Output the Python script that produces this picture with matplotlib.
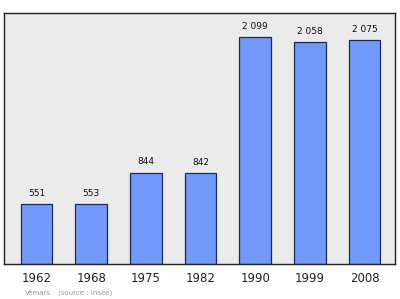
import matplotlib
matplotlib.use("Agg")
import matplotlib.pyplot as plt

years = ["1962", "1968", "1975", "1982", "1990", "1999", "2008"]
population = [551, 553, 844, 842, 2099, 2058, 2075]
value_labels = ["551", "553", "844", "842", "2 099", "2 058", "2 075"]

fig = plt.figure(figsize=(4.0, 2.99), dpi=100)
ax = fig.add_axes([4/400, 1-263.7/299, 391/400, (263.7-13.3)/299])
ax.set_facecolor("#ebebeb")
x = list(range(len(years)))
ax.bar(x, population, width=0.576, color="#7399fc", edgecolor="#1a2a5a", linewidth=0.9, zorder=2)
for xi, v, lab in zip(x, population, value_labels):
    ax.text(xi, v + 100, lab, ha="center", va="center", fontsize=6.5, color="#111111")
ax.set_xlim(-0.594, 6.557)
ax.set_ylim(0, 2323)
ax.set_yticks([])
ax.set_xticks(x)
ax.set_xticklabels(years, fontsize=8.5, color="#222222")
ax.tick_params(axis="x", length=0, pad=6)
for s in ax.spines.values():
    s.set_color("#222222")
    s.set_linewidth(1.0)
fig.text(25/400, 1-292.7/299, "Vémars", fontsize=5, color="#999999", va="center", ha="left")
fig.text(58/400, 1-292.7/299, "(source : Insee)", fontsize=5, color="#999999", va="center", ha="left")
fig.savefig("out.png", dpi=100)
